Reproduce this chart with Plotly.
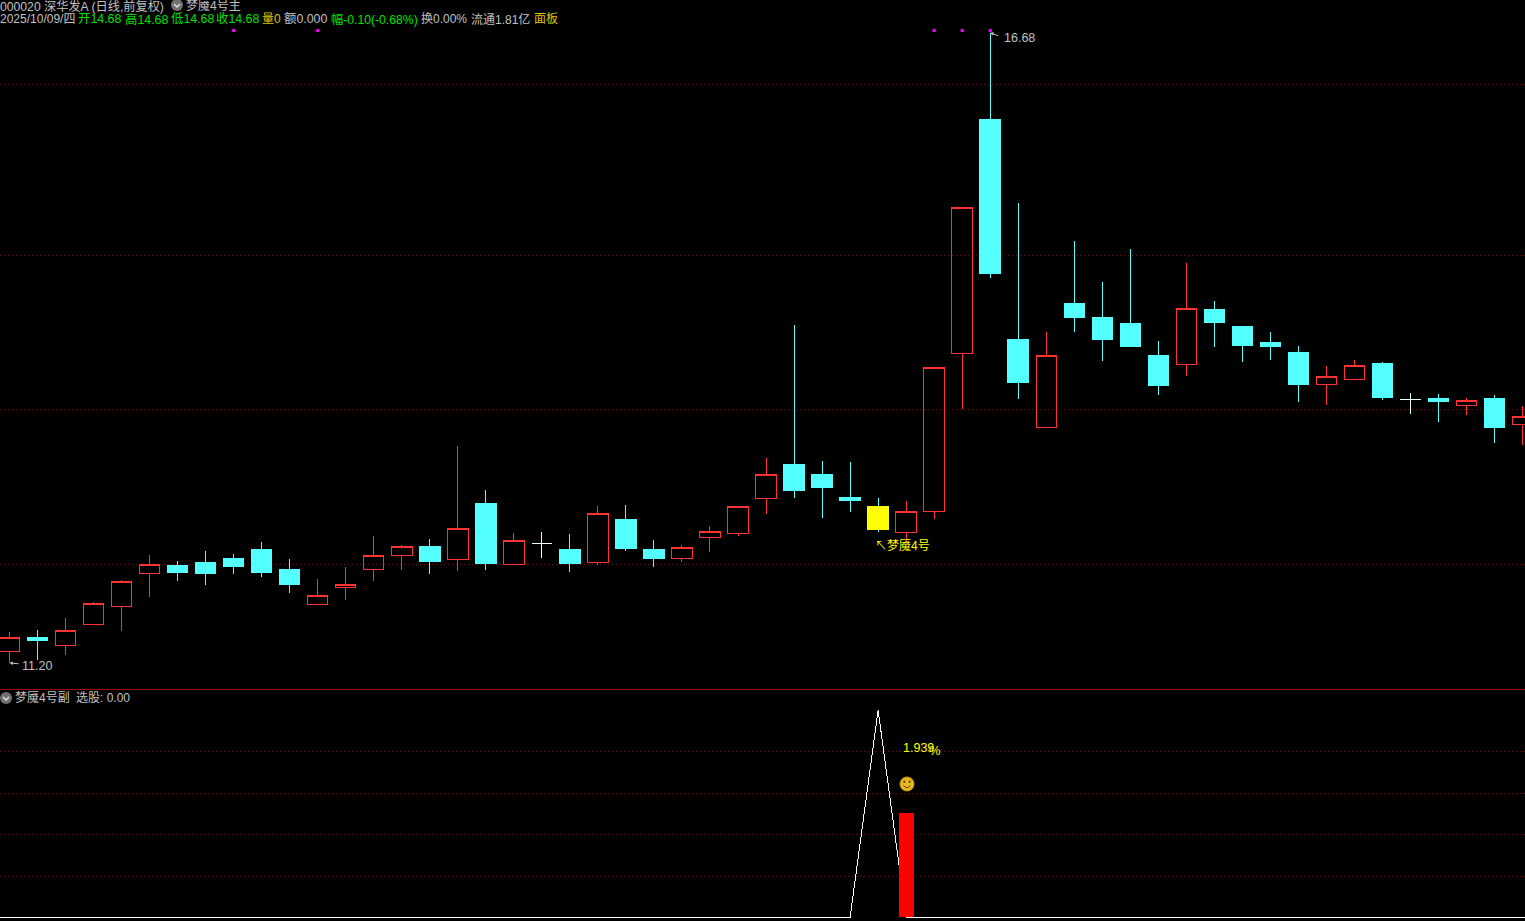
import plotly.graph_objects as go

W, H = 1525, 921

# ---- data ----
open_ = [11.298,11.426,11.350,11.533,11.690,11.980,12.052,12.070,12.113,12.191,12.009,11.707,11.855,12.011,12.133,12.209,12.098,12.583,12.055,12.241,12.191,12.076,12.452,12.191,12.107,12.291,12.324,12.629,12.922,12.835,12.643,12.557,12.333,12.516,13.891,15.922,14.009,13.246,14.330,14.200,14.148,13.878,13.794,14.278,14.122,13.991,13.904,13.620,13.663,13.800,13.493,13.496,13.437,13.496,13.272]
high = [11.470,11.487,11.591,11.730,11.922,12.139,12.087,12.174,12.148,12.252,12.104,11.930,12.035,12.304,12.226,12.278,13.087,12.704,12.330,12.339,12.322,12.565,12.574,12.270,12.226,12.391,12.563,12.983,14.139,12.957,12.948,12.635,12.609,13.771,15.163,16.680,15.200,14.078,14.870,14.513,14.800,14.000,14.678,14.348,14.122,14.078,13.957,13.783,13.835,13.817,13.548,13.539,13.504,13.530,13.435]
low = [11.200,11.226,11.270,11.533,11.481,11.777,11.913,11.878,11.974,11.948,11.809,11.707,11.748,11.913,12.009,11.974,12.000,12.009,12.055,12.113,11.991,12.052,12.174,12.035,12.078,12.165,12.304,12.496,12.635,12.461,12.513,12.339,12.252,12.452,13.409,14.548,13.496,13.246,14.078,13.826,13.948,13.530,13.696,13.948,13.817,13.835,13.470,13.443,13.663,13.487,13.365,13.296,13.357,13.113,13.096]
close = [11.423,11.400,11.484,11.719,11.910,12.058,11.991,11.974,12.043,11.991,11.887,11.789,11.884,12.137,12.215,12.087,12.371,12.061,12.267,12.241,12.061,12.502,12.200,12.113,12.206,12.345,12.563,12.841,12.696,12.722,12.617,12.365,12.519,13.771,15.163,14.583,13.643,13.876,14.200,14.017,13.948,13.609,14.284,14.165,13.957,13.948,13.626,13.693,13.789,13.513,13.493,13.470,13.484,13.252,13.345]
signal_days = [31]
marker_days = [8, 11, 33, 34, 35]
marker_price = [16.70, 16.70, 16.70, 16.70, 16.70]
price_grid = [16.230, 14.743, 13.404, 12.057]

sub_days = list(range(-1, 56))
sub_line = [0]*32 + [100] + [0]*24
sub_bar_day = [32]
sub_bar_val = [50.4]
sub_grid = [20, 40, 60, 80]

RED, CYAN, YELLOW, GREY, GREEN, GOLD = "#ff3232", "#54ffff", "#ffff00", "#c0c0c0", "#00e000", "#d8c800"
GRID = "#661212"

days = list(range(len(open_)))
up = [i for i in days if close[i] > open_[i]]
dn = [i for i in days if close[i] < open_[i]]
flat = [i for i in days if close[i] == open_[i]]
pick = lambda arr, idx: [arr[i] for i in idx]

def candle(idx, color, fill, width=1, o=None, h=None, l=None, c=None):
    o, h, l, c = o or open_, h or high, l or low, c or close
    return go.Candlestick(
        x=idx, open=pick(o, idx), high=pick(h, idx), low=pick(l, idx), close=pick(c, idx),
        whiskerwidth=0, hoverinfo="skip", xaxis="x", yaxis="y",
        increasing=dict(line=dict(color=color, width=width), fillcolor=fill),
        decreasing=dict(line=dict(color=color, width=width), fillcolor=fill),
    )

fig = go.Figure()
fig.add_trace(candle(up, RED, "rgba(0,0,0,0)"))
fig.add_trace(candle(dn, CYAN, CYAN))
fig.add_trace(candle(flat, "#e8ffff", "#e8ffff"))
# highlighted body of the signal day: wick stays cyan, body painted yellow
body_hi = [max(a, b) for a, b in zip(open_, close)]
body_lo = [min(a, b) for a, b in zip(open_, close)]
fig.add_trace(candle(signal_days, YELLOW, YELLOW, 2, h=body_hi, l=body_lo))
fig.add_trace(go.Scatter(x=marker_days, y=marker_price, mode="markers", hoverinfo="skip",
                         marker=dict(symbol="square", size=3, color="#ff00ff"), xaxis="x", yaxis="y"))
fig.add_trace(go.Scatter(x=sub_days, y=sub_line, mode="lines", hoverinfo="skip",
                         line=dict(color="#ffffff", width=1), xaxis="x2", yaxis="y2"))
fig.add_trace(go.Bar(x=sub_bar_day, y=sub_bar_val, width=0.535, marker=dict(color="#ff0000", line=dict(width=0)),
                     hoverinfo="skip", xaxis="x2", yaxis="y3"))

def px(x): return x / W
def py(y): return 1 - y / H

x_range = [-0.339, 54.087]
main_range = [10.974, 16.965]
sub_range = [-1.69, 109.64]
main_dom = [py(689), 1]
sub_dom = [0, py(690)]

ann = []
def T(x, y, s, color=GREY, size=12):
    ann.append(dict(x=px(x), y=py(y), xref="paper", yref="paper", text=s, showarrow=False,
                    xanchor="left", yanchor="middle", font=dict(color=color, size=size), align="left",
                    xshift=0, yshift=0, borderpad=0, borderwidth=0))

T(0, 6, "000020 深华发A (日线,前复权)", size=12.2)
T(186, 6, "梦魇4号主")
T(0, 19, "2025/10/09/四", size=12)
T(78, 19, "开14.68", GREEN, 12.4)
T(125, 19, "高14.68", GREEN, 12.4)
T(171, 19, "低14.68", GREEN, 12.4)
T(216, 19, "收14.68", GREEN, 12.4)
T(262, 19, "量0", GOLD)
T(284, 19, "额0.000", size=12.4)
T(331, 19, "幅-0.10(-0.68%)", GREEN, 12.2)
T(421, 19, "换0.00%")
T(471, 19, "流通1.81亿")
T(534, 19, "面板", GOLD)
T(15, 698, "梦魇4号副")
T(76, 698, "选股: 0.00")
T(1004, 38, f"{max(high):.2f}", size=12.5)
T(22, 666, f"{min(low):.2f}", size=12.5)
T(875, 546, "↖梦魇4号", YELLOW)
T(903, 748, "1.939", YELLOW, 12.5)
T(929, 750, "%", YELLOW, 13)

for i_x, i_y, ax, ay in [(35, max(high), 11, 4), (0, min(low), 12, 1)]:
    ann.append(dict(x=i_x, y=i_y, xref="x", yref="y", text=" ", showarrow=True, ax=ax, ay=ay,
                    arrowcolor=GREY, arrowwidth=1, arrowhead=2, arrowsize=0.7, standoff=0, startstandoff=0))

shapes = [
    dict(type="line", xref="paper", yref="paper", x0=0, x1=1, y0=py(689.5), y1=py(689.5),
         line=dict(color="#a00000", width=1)),
]
def icon(cx, cy):
    shapes.append(dict(type="circle", xref="paper", yref="paper", x0=px(cx-6), x1=px(cx+6), y0=py(cy+6), y1=py(cy-6),
                       fillcolor="#707070", line=dict(width=0)))
    path = f"M {px(cx-3)} {py(cy-1)} L {px(cx)} {py(cy+2)} L {px(cx+3)} {py(cy-1)}"
    shapes.append(dict(type="path", xref="paper", yref="paper", path=path, line=dict(color="#e0e0e0", width=1.5)))
icon(177, 5)
icon(6, 698)

# smiley above the bar
shapes.append(dict(type="circle", xref="paper", yref="paper", x0=px(900), x1=px(914), y0=py(791), y1=py(777),
                   fillcolor="#e8b820", line=dict(color="#c89a10", width=1)))
for ex in (904.3, 909.7):
    shapes.append(dict(type="circle", xref="paper", yref="paper", x0=px(ex-1), x1=px(ex+1), y0=py(783), y1=py(780.5),
                       fillcolor="#5a4000", line=dict(width=0)))
shapes.append(dict(type="path", xref="paper", yref="paper",
                   path=f"M {px(903.5)} {py(785.5)} Q {px(907)} {py(790)} {px(910.5)} {py(785.5)}",
                   line=dict(color="#5a4000", width=1)))

hidden = dict(showticklabels=False, ticks="", zeroline=False, showline=False)
fig.update_layout(
    width=W, height=H, autosize=False, margin=dict(l=0, r=0, t=0, b=0, pad=0),
    paper_bgcolor="#000000", plot_bgcolor="#000000", showlegend=False,
    font=dict(family="Liberation Sans, Noto Sans CJK SC, sans-serif", size=12, color=GREY),
    boxmode="overlay", boxgap=0.27, boxgroupgap=0, bargap=0, barmode="overlay",
    xaxis=dict(domain=[0, 1], range=x_range, anchor="y", showgrid=False, rangeslider=dict(visible=False), **hidden),
    yaxis=dict(domain=main_dom, range=main_range, anchor="x", tickmode="array", tickvals=price_grid,
               showgrid=True, gridcolor=GRID, gridwidth=1, griddash="1px,3px", **hidden),
    xaxis2=dict(domain=[0, 1], range=x_range, anchor="y2", showgrid=False, **hidden),
    yaxis2=dict(domain=sub_dom, range=sub_range, anchor="x2", tickmode="array", tickvals=sub_grid,
                showgrid=True, gridcolor=GRID, gridwidth=1, griddash="1px,3px", **hidden),
    yaxis3=dict(domain=sub_dom, range=sub_range, anchor="x2", overlaying="y2", showgrid=False, **hidden),
    annotations=ann, shapes=shapes,
)

post = """
document.body.style.margin='0';document.body.style.background='#000';document.documentElement.style.overflow='hidden';
function crisp(){
  document.querySelectorAll('g.boxes path').forEach(function(p){
    p.style.shapeRendering='crispEdges';p.style.strokeLinejoin='miter';
  });
  document.querySelectorAll('path.js-line').forEach(function(p){p.style.shapeRendering='crispEdges';});
  document.querySelectorAll('path.ygrid, path.y2grid').forEach(function(p){p.style.shapeRendering='crispEdges';});
}
crisp();setTimeout(crisp,50);setTimeout(crisp,300);
"""
fig.write_html("out.html", config=dict(displayModeBar=False), post_script=post)
